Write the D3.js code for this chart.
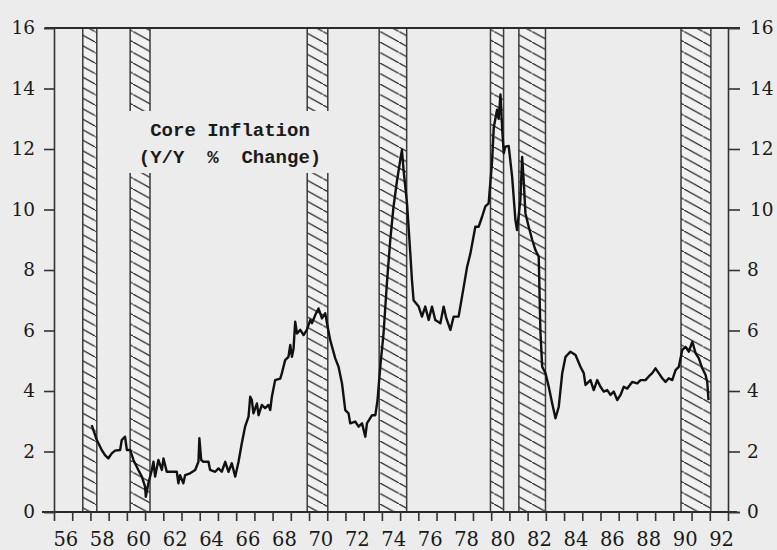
<!DOCTYPE html>
<html>
<head>
<meta charset="utf-8">
<script src="https://cdn.jsdelivr.net/npm/d3@7"></script>
<style>
  html, body { margin: 0; padding: 0; background: #ececec; }
  svg { display: block; }
  .tick text { font-family: "DejaVu Serif", "Liberation Serif", serif; fill: #1a1a1a; }
</style>
</head>
<body>
<div id="chart"></div>
<script>
// core CPI, year-over-year % change (decimal years)
const dates = [
  1958.07, 1958.35, 1958.62, 1958.80, 1958.98, 1959.17, 1959.35, 1959.63, 1959.72, 1959.90,
  1960.00, 1960.18, 1960.36, 1960.63, 1960.82, 1961.00, 1961.04, 1961.18, 1961.37, 1961.46,
  1961.55, 1961.73, 1961.92, 1962.01, 1962.19, 1962.47, 1962.74, 1962.83, 1962.92, 1963.10,
  1963.20, 1963.47, 1963.75, 1963.93, 1963.98, 1964.08, 1964.20, 1964.48, 1964.57, 1964.85,
  1965.03, 1965.21, 1965.40, 1965.58, 1965.76, 1965.95, 1966.13, 1966.31, 1966.49, 1966.68,
  1966.77, 1966.86, 1966.95, 1967.14, 1967.23, 1967.41, 1967.59, 1967.77, 1967.87, 1967.96,
  1968.14, 1968.42, 1968.51, 1968.69, 1968.87, 1968.97, 1969.06, 1969.15, 1969.24, 1969.34,
  1969.52, 1969.70, 1969.88, 1970.07, 1970.16, 1970.34, 1970.52, 1970.71, 1970.89, 1971.02,
  1971.16, 1971.44, 1971.62, 1971.81, 1971.99, 1972.17, 1972.26, 1972.54, 1972.72, 1972.91,
  1973.09, 1973.18, 1973.46, 1973.64, 1973.76, 1973.91, 1974.09, 1974.28, 1974.46, 1974.64,
  1974.83, 1975.01, 1975.10, 1975.19, 1975.38, 1975.56, 1975.65, 1975.74, 1976.02, 1976.20,
  1976.38, 1976.57, 1976.75, 1976.93, 1977.21, 1977.39, 1977.54, 1977.76, 1977.94, 1978.21,
  1978.40, 1978.68, 1978.86, 1979.13, 1979.31, 1979.50, 1979.68, 1979.86, 1980.05, 1980.14,
  1980.32, 1980.41, 1980.51, 1980.60, 1980.69, 1980.78, 1980.96, 1981.15, 1981.33, 1981.42,
  1981.60, 1981.70, 1981.79, 1981.88, 1982.06, 1982.25, 1982.43, 1982.61, 1982.70, 1982.80,
  1982.98, 1983.16, 1983.35, 1983.53, 1983.71, 1983.90, 1984.08, 1984.35, 1984.63, 1984.90,
  1985.08, 1985.18, 1985.45, 1985.63, 1985.82, 1986.00, 1986.18, 1986.37, 1986.55, 1986.73,
  1986.92, 1987.10, 1987.28, 1987.47, 1987.74, 1988.02, 1988.20, 1988.47, 1988.65, 1988.84,
  1989.02, 1989.20, 1989.39, 1989.57, 1989.75, 1989.94, 1990.12, 1990.30, 1990.49, 1990.67,
  1990.85, 1991.04, 1991.22, 1991.40, 1991.59, 1991.77, 1991.86, 1991.93
];
const coreInflation = [
  2.87, 2.38, 2.05, 1.88, 1.77, 1.94, 2.03, 2.05, 2.38, 2.49,
  2.05, 2.05, 1.72, 1.39, 1.17, 0.84, 0.50, 0.95, 1.39, 1.66,
  1.17, 1.72, 1.39, 1.77, 1.33, 1.33, 1.33, 0.95, 1.22, 0.95,
  1.22, 1.28, 1.39, 1.66, 2.44, 1.72, 1.66, 1.66, 1.39, 1.33,
  1.44, 1.33, 1.66, 1.33, 1.61, 1.17, 1.66, 2.27, 2.82, 3.15,
  3.81, 3.70, 3.26, 3.59, 3.20, 3.54, 3.43, 3.54, 3.37, 3.81,
  4.36, 4.41, 4.59, 5.02, 5.13, 5.52, 5.13, 5.40, 6.29, 5.90,
  6.02, 5.85, 6.02, 6.35, 6.24, 6.51, 6.73, 6.40, 6.57, 6.13,
  5.69, 5.08, 4.80, 4.25, 3.37, 3.26, 2.93, 2.99, 2.82, 2.93,
  2.49, 2.93, 3.20, 3.20, 3.70, 4.80, 5.90, 7.60, 9.00, 10.10,
  10.95, 11.64, 11.97, 11.30, 10.20, 8.55, 7.67, 7.00, 6.79, 6.46,
  6.79, 6.35, 6.79, 6.35, 6.24, 6.79, 6.40, 6.02, 6.46, 6.46,
  7.12, 8.11, 8.55, 9.43, 9.43, 9.76, 10.10, 10.20, 11.60, 12.70,
  13.30, 13.00, 13.80, 12.70, 11.86, 12.08, 12.10, 11.08, 9.65, 9.32,
  10.30, 11.74, 10.90, 9.87, 9.43, 9.00, 8.66, 8.44, 6.00, 4.80,
  4.59, 4.14, 3.59, 3.10, 3.48, 4.59, 5.13, 5.30, 5.19, 4.80,
  4.59, 4.20, 4.36, 4.03, 4.36, 4.14, 3.98, 4.03, 3.87, 3.98,
  3.70, 3.87, 4.14, 4.08, 4.30, 4.25, 4.36, 4.36, 4.48, 4.59,
  4.75, 4.59, 4.42, 4.30, 4.42, 4.36, 4.69, 4.80, 5.36, 5.46,
  5.30, 5.63, 5.25, 5.08, 4.75, 4.53, 4.30, 3.70
];

// recession bars (as drawn)
const recessionStart = [1957.58, 1960.18, 1969.90, 1973.85, 1979.96, 1981.52, 1990.42];
const recessionEnd   = [1958.35, 1961.27, 1971.03, 1975.36, 1980.68, 1982.98, 1992.06];

const yTicks = [0, 2, 4, 6, 8, 10, 12, 14, 16];
const yearTicks = d3.range(1956, 1994);
const yearLabels = d3.range(1956, 1993, 2);

const labelLines = ["Core Inflation", "(Y/Y  %  Change)"];

const width = 777, height = 550;
const bg = "#ececec";

const svg = d3.select("#chart").append("svg")
  .attr("width", width)
  .attr("height", height)
  .style("background", bg);

const x = d3.scaleLinear().domain([1956, 1993]).range([54, 728]);
const y = d3.scaleLinear().domain([0, 16]).range([512, 28]);

// hatch pattern for the recession bars
const defs = svg.append("defs");
const pat = defs.append("pattern")
  .attr("id", "hatch")
  .attr("patternUnits", "userSpaceOnUse")
  .attr("width", 19)
  .attr("height", 10.5);
pat.append("rect").attr("width", 19).attr("height", 10.5).attr("fill", "#f1f1f1");
pat.append("path")
  .attr("d", "M-2,-1.1 L21,11.6")
  .attr("stroke", "#2a2a2a")
  .attr("stroke-width", 1.3);

const recessions = recessionStart.map((s, i) => ({ s, e: recessionEnd[i] }));

svg.append("g").selectAll("rect")
  .data(recessions)
  .join("rect")
  .attr("x", (d) => x(d.s))
  .attr("y", y(16))
  .attr("width", (d) => x(d.e) - x(d.s))
  .attr("height", y(0) - y(16))
  .attr("fill", "url(#hatch)")
  .attr("stroke", "#3a3a3a")
  .attr("stroke-width", 1.5);

// blank box behind the series label
svg.append("rect")
  .attr("x", 128)
  .attr("y", 111)
  .attr("width", 203)
  .attr("height", 62)
  .attr("fill", bg);

const label = svg.append("text")
  .attr("text-anchor", "middle")
  .style("font-family", "'Liberation Mono', 'Courier New', monospace")
  .style("font-size", "19px")
  .style("font-weight", "bold")
  .style("white-space", "pre")
  .attr("fill", "#1a1a1a");
label.selectAll("tspan")
  .data(labelLines)
  .join("tspan")
  .attr("x", 230)
  .attr("y", (d, i) => 136 + i * 27)
  .text((d) => d);

// frame lines
svg.append("line")
  .attr("x1", 45).attr("x2", 740)
  .attr("y1", y(16)).attr("y2", y(16))
  .attr("stroke", "#2a2a2a").attr("stroke-width", 1.8);
svg.append("line")
  .attr("x1", 42).attr("x2", 737)
  .attr("y1", y(0)).attr("y2", y(0))
  .attr("stroke", "#2a2a2a").attr("stroke-width", 2);

// y axes
const yLeft = d3.axisLeft(y).tickValues(yTicks).tickSize(10).tickPadding(9);
const yRight = d3.axisRight(y).tickValues(yTicks).tickSize(12).tickPadding(9);

const gl = svg.append("g").attr("transform", `translate(${x(1956)},0)`).call(yLeft);
const gr = svg.append("g").attr("transform", `translate(${x(1993)},0)`).call(yRight);
[gl, gr].forEach((g) => {
  g.select(".domain").attr("stroke", "#333").attr("stroke-width", 1.6);
  g.selectAll(".tick line").attr("stroke", "#333").attr("stroke-width", 1.6);
  g.selectAll(".tick text").style("font-size", "18.5px").attr("dy", "0.3em");
});
gl.selectAll(".tick text").attr("x", -19);
gr.selectAll(".tick text").attr("x", (d) => (d >= 10 ? 22 : 19));

// x axis: yearly ticks, even-year labels
const xTickAxis = d3.axisBottom(x).tickValues(yearTicks).tickSize(9).tickFormat("");
const gx = svg.append("g").attr("transform", `translate(0,${y(0)})`).call(xTickAxis);
gx.select(".domain").remove();
gx.selectAll(".tick line").attr("stroke", "#333").attr("stroke-width", 1.6);

svg.append("g").selectAll("text")
  .data(yearLabels)
  .join("text")
  .attr("x", (d) => x(d + 0.65))
  .attr("y", 546)
  .attr("text-anchor", "middle")
  .style("font-family", "'DejaVu Serif', 'Liberation Serif', serif")
  .style("font-size", "19.5px")
  .attr("fill", "#1a1a1a")
  .text((d) => String(d).slice(2));

// the series
const series = dates.map((d, i) => ({ t: d, v: coreInflation[i] }));
const line = d3.line().x((d) => x(d.t)).y((d) => y(d.v));

svg.append("path")
  .attr("d", line(series))
  .attr("fill", "none")
  .attr("stroke", "#111")
  .attr("stroke-width", 2.4)
  .attr("stroke-linejoin", "round");
</script>
</body>
</html>
